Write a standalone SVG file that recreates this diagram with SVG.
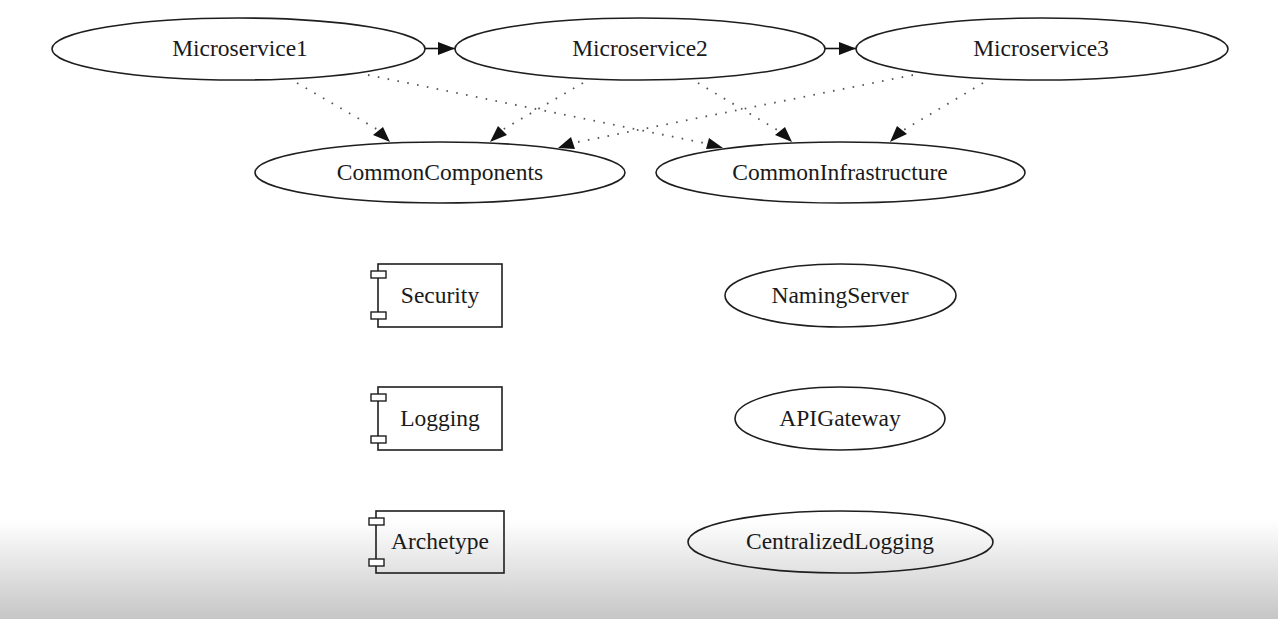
<svg xmlns="http://www.w3.org/2000/svg" width="1278" height="619" viewBox="0 0 1278 619">
<defs>
<linearGradient id="bg" x1="0" y1="0" x2="0" y2="1">
<stop offset="0" stop-color="#ffffff"/>
<stop offset="1" stop-color="#c6c6c6"/>
</linearGradient>
<marker id="ah" markerUnits="userSpaceOnUse" markerWidth="20" markerHeight="14" refX="17" refY="6.5" orient="auto">
<path d="M0,0 L17,6.5 L0,13 Z" fill="#111"/>
</marker>
</defs>
<style>
.n{fill:none;stroke:#1e1e1e;stroke-width:1.6}
.tab{fill:#fff;stroke:#1e1e1e;stroke-width:1.4}
.t{font-family:"Liberation Serif","Times New Roman",serif;font-size:23.5px;fill:#1a1a1a;text-anchor:middle}
.s{fill:none;stroke:#111;stroke-width:1.6}
.d{fill:none;stroke:#555;stroke-width:1.8;stroke-dasharray:1.6 8.4;stroke-linecap:butt}
</style>
<rect x="0" y="0" width="1278" height="619" fill="#fff"/>
<rect x="0" y="520" width="1278" height="99" fill="url(#bg)"/>

<g id="connectors">
<path class="s" d="M425,48.5 L455,48.5" marker-end="url(#ah)"/>
<path class="s" d="M825,48.5 L856,48.5" marker-end="url(#ah)"/>
<path class="d" d="M297,83 L380,131"/>
<path d="M390,142 L373,135 L383,127 Z" fill="#111"/>
<path class="d" d="M368,75 L709,144"/>
<path d="M723,148 L706,149 L709,138 Z" fill="#111"/>
<path class="d" d="M583,83 L502,130"/>
<path d="M490,142 L498,126 L507,135 Z" fill="#111"/>
<path class="d" d="M698,83 L779,131"/>
<path d="M792,142 L775,135 L785,127 Z" fill="#111"/>
<path class="d" d="M913,75 L573,143"/>
<path d="M558,148 L571,137 L575,149 Z" fill="#111"/>
<path class="d" d="M983,83 L902,131"/>
<path d="M890,142 L897,126 L907,134 Z" fill="#111"/>
</g>

<g id="Microservice1">
<ellipse class="n" cx="238.5" cy="49" rx="186.5" ry="31"/>
<text class="t" x="240" y="56">Microservice1</text>
</g>
<g id="Microservice2">
<ellipse class="n" cx="640" cy="49" rx="185" ry="31"/>
<text class="t" x="640" y="56">Microservice2</text>
</g>
<g id="Microservice3">
<ellipse class="n" cx="1042" cy="49" rx="186" ry="31"/>
<text class="t" x="1041" y="56">Microservice3</text>
</g>
<g id="CommonComponents">
<ellipse class="n" cx="440" cy="172.5" rx="185" ry="30.5"/>
<text class="t" x="440" y="180">CommonComponents</text>
</g>
<g id="CommonInfrastructure">
<ellipse class="n" cx="840.5" cy="172.5" rx="184.5" ry="30.5"/>
<text class="t" x="840" y="180">CommonInfrastructure</text>
</g>

<g id="Security">
<rect class="n" x="378" y="264" width="124" height="63"/>
<rect class="tab" x="371" y="271" width="15" height="7"/>
<rect class="tab" x="371" y="312" width="15" height="7"/>
<text class="t" x="440" y="303">Security</text>
</g>
<g id="Logging">
<rect class="n" x="378" y="387" width="124" height="63"/>
<rect class="tab" x="371" y="394" width="15" height="7"/>
<rect class="tab" x="371" y="436" width="15" height="7"/>
<text class="t" x="440" y="426">Logging</text>
</g>
<g id="Archetype">
<rect class="n" x="376" y="511" width="128" height="62"/>
<rect class="tab" x="369" y="518" width="15" height="7"/>
<rect class="tab" x="369" y="559" width="15" height="7"/>
<text class="t" x="440" y="549">Archetype</text>
</g>

<g id="NamingServer">
<ellipse class="n" cx="840.5" cy="295.5" rx="115.5" ry="31.5"/>
<text class="t" x="840" y="303">NamingServer</text>
</g>
<g id="APIGateway">
<ellipse class="n" cx="840" cy="418.5" rx="105" ry="31.5"/>
<text class="t" x="840" y="426">APIGateway</text>
</g>
<g id="CentralizedLogging">
<ellipse class="n" cx="840.5" cy="542" rx="152.5" ry="31"/>
<text class="t" x="840" y="549">CentralizedLogging</text>
</g>
</svg>
